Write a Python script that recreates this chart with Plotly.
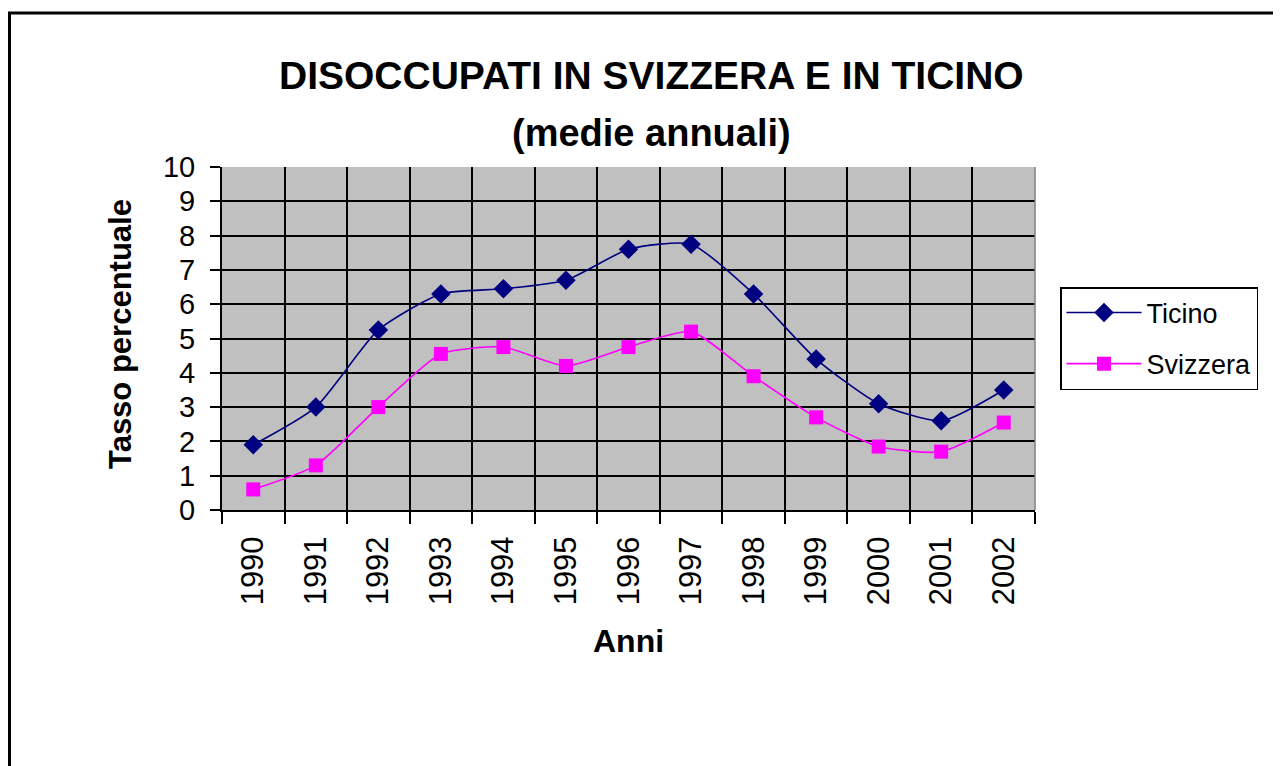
import plotly.graph_objects as go

anni = ["1990", "1991", "1992", "1993", "1994", "1995", "1996", "1997", "1998", "1999", "2000", "2001", "2002"]
ticino = [1.9, 3.0, 5.25, 6.3, 6.45, 6.7, 7.6, 7.75, 6.3, 4.4, 3.1, 2.6, 3.5]
svizzera = [0.6, 1.3, 3.0, 4.55, 4.75, 4.2, 4.75, 5.2, 3.9, 2.7, 1.85, 1.7, 2.55]
y_ticks = list(range(0, 11))

OFF = 8  # page body margin
W, H = 1281 - OFF, 766 - OFF
L, R, T, B = 222 - OFF, 1035 - OFF, 167 - OFF, 510 - OFF
FONT = "Liberation Sans, Arial, sans-serif"


def px(X):
    return (X - OFF - L) / (R - L)


def py(Y):
    return (B - (Y - OFF)) / (B - T)


fig = go.Figure()
fig.add_trace(go.Scatter(
    x=anni, y=ticino, name="Ticino", mode="lines+markers",
    line=dict(color="#000080", width=1.6, shape="spline", smoothing=0.6),
    marker=dict(symbol="diamond", size=15, color="#000080"),
    legendgroup="a",
))
fig.add_trace(go.Scatter(
    x=anni, y=svizzera, name="Svizzera", mode="lines+markers",
    line=dict(color="#FF00FF", width=1.6, shape="spline", smoothing=0.6),
    marker=dict(symbol="square", size=14, color="#FF00FF"),
    legendgroup="b",
))

fig.update_layout(
    width=W, height=H, autosize=False,
    margin=dict(l=L, r=W - R, t=T, b=H - B, pad=0),
    paper_bgcolor="white", plot_bgcolor="#C0C0C0",
    font=dict(family=FONT, color="black"),
    showlegend=True,
    legend=dict(
        x=px(1060), y=py(287), xanchor="left", yanchor="top",
        bordercolor="black", borderwidth=1.5, bgcolor="white",
        font=dict(size=27, family=FONT), tracegroupgap=13,
        itemwidth=75, entrywidth=140, entrywidthmode="pixels",
    ),
    xaxis=dict(
        type="category", tickson="boundaries", range=[-0.5, 12.5],
        showgrid=True, gridcolor="black", gridwidth=2,
        ticks="outside", ticklen=12, tickcolor="black", tickwidth=1.5,
        tickangle=-90, tickfont=dict(size=31, family=FONT), ticklabelstandoff=12,
        showline=True, linecolor="black", linewidth=2,
        zeroline=False,
    ),
    yaxis=dict(
        range=[0, 10], tickvals=y_ticks, ticktext=[str(v) for v in y_ticks],
        showgrid=True, gridcolor="black", gridwidth=2,
        ticks="outside", ticklen=10, tickcolor="black", tickwidth=1.5,
        tickfont=dict(size=29, family=FONT), ticklabelstandoff=9,
        showline=True, linecolor="black", linewidth=2,
        zeroline=False,
    ),
    annotations=[
        dict(text="<b>DISOCCUPATI IN SVIZZERA E IN TICINO</b>", x=px(651), y=py(76),
             xref="paper", yref="paper", showarrow=False, xanchor="center", yanchor="middle",
             font=dict(size=39, family=FONT)),
        dict(text="<b>(medie annuali)</b>", x=px(651), y=py(133),
             xref="paper", yref="paper", showarrow=False, xanchor="center", yanchor="middle",
             font=dict(size=38, family=FONT)),
        dict(text="<b>Anni</b>", x=px(628), y=py(641),
             xref="paper", yref="paper", showarrow=False, xanchor="center", yanchor="middle",
             font=dict(size=32, family=FONT)),
        dict(text="<b>Tasso percentuale</b>", x=px(120), y=py(334), textangle=-90,
             xref="paper", yref="paper", showarrow=False, xanchor="center", yanchor="middle",
             font=dict(size=31, family=FONT)),
    ],
    shapes=[
        dict(type="line", xref="paper", yref="paper", x0=px(9.5), x1=px(9.5), y0=py(790), y1=py(13),
             line=dict(color="black", width=3)),
        dict(type="line", xref="paper", yref="paper", x0=px(8), x1=px(1300), y0=py(13), y1=py(13),
             line=dict(color="black", width=3)),
        dict(type="line", xref="paper", yref="paper", x0=1, x1=1, y0=0, y1=1,
             line=dict(color="#808080", width=1.5)),
    ],
)

fig.write_html("out.html")
